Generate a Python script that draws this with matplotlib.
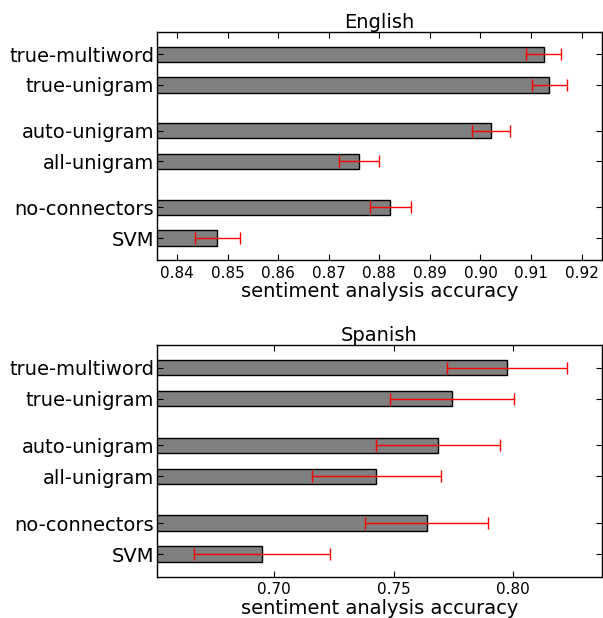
import numpy as np
import matplotlib
matplotlib.use("Agg")
import matplotlib.pyplot as plt

# -------------------- 数据 --------------------
labels = ["true-multiword", "true-unigram", "auto-unigram", "all-unigram",
          "no-connectors", "SVM"]
positions = [0, 1, 2.5, 3.5, 5, 6]  # 三组，组间留空

english_acc = [0.9125, 0.9136, 0.9021, 0.8760, 0.8822, 0.8480]
english_err = [0.0035, 0.0035, 0.0037, 0.0040, 0.0040, 0.0045]

spanish_acc = [0.7975, 0.7745, 0.7686, 0.7428, 0.7639, 0.6947]
spanish_err = [0.0250, 0.0259, 0.0259, 0.0270, 0.0258, 0.0285]

english_xticks = [0.84, 0.85, 0.86, 0.87, 0.88, 0.89, 0.90, 0.91, 0.92]
spanish_xticks = [0.70, 0.75, 0.80]

# -------------------- 画图 --------------------
fig = plt.figure(figsize=(6.03, 6.18), dpi=100)
ax1 = fig.add_axes([0.26, 0.579, 0.739, 0.369])
ax2 = fig.add_axes([0.26, 0.067, 0.739, 0.3745])


def draw_panel(ax, acc, err, title, xlim, xticks):
    ax.barh(positions, acc, height=0.5, color="#808080", edgecolor="black",
            linewidth=1.0, align="center")
    ax.errorbar(acc, positions, xerr=err, fmt="none", ecolor="red",
                elinewidth=1.0, capsize=4, capthick=1.0)
    ax.set_xlim(*xlim)
    ax.set_ylim(6.72, -0.72)
    ax.set_yticks(positions)
    ax.set_yticklabels(labels, fontsize=14)
    ax.set_xticks(xticks)
    ax.set_xticklabels(["%.2f" % t for t in xticks], fontsize=11)
    ax.set_xlabel("sentiment analysis accuracy", fontsize=14, labelpad=1)
    ax.set_title(title, fontsize=14, pad=3)
    ax.tick_params(direction="in", top=True, right=True, length=4,
                   width=0.8, pad=4)
    ax.tick_params(axis="y", pad=2)
    for s in ax.spines.values():
        s.set_linewidth(1.0)


draw_panel(ax1, english_acc, english_err, "English", (0.836, 0.9241),
           english_xticks)
draw_panel(ax2, spanish_acc, spanish_err, "Spanish", (0.6508, 0.8374),
           spanish_xticks)

fig.savefig("out.png", dpi=100)
